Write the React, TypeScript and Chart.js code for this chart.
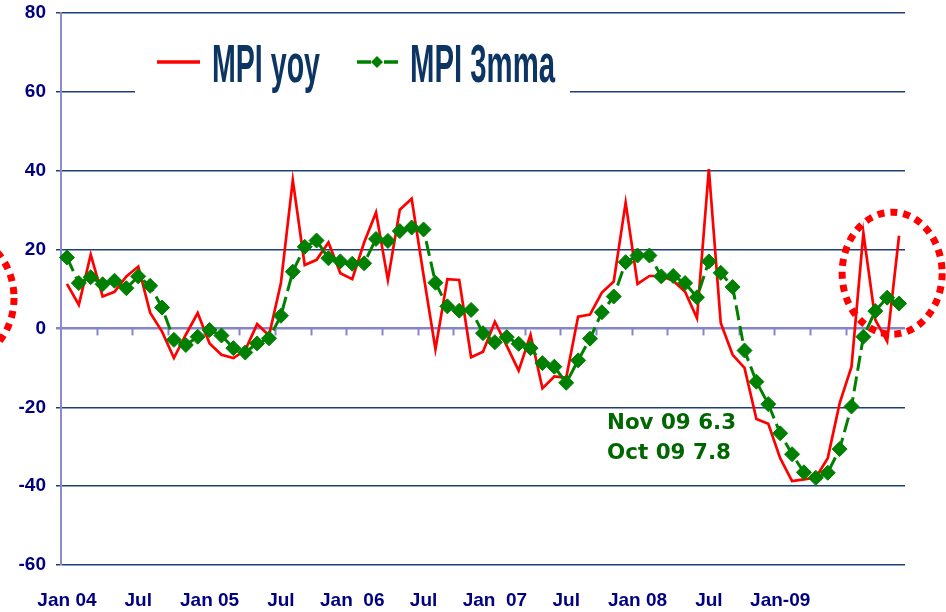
import { useEffect, useRef } from 'react';
import { Chart, registerables } from 'chart.js';

Chart.register(...registerables);

const MONTHS = ['Jan', 'Feb', 'Mar', 'Apr', 'May', 'Jun', 'Jul', 'Aug', 'Sep', 'Oct', 'Nov', 'Dec'];
const YEARS = ['04', '05', '06', '07', '08', '09'];
const categories: string[] = YEARS.flatMap((yr) => MONTHS.map((m) => `${m} ${yr}`)).slice(0, 71);

const tickLabels = ['Jan 04', 'Jul', 'Jan 05', 'Jul', 'Jan  06', 'Jul', 'Jan  07', 'Jul', 'Jan 08', 'Jul', 'Jan-09'];

const mpiYoy = [
  11.3, 6.0, 18.7, 8.1, 9.3, 13.2, 15.7, 4.0, -0.8, -7.5, -1.6, 3.9,
  -3.8, -6.7, -7.5, -5.5, 1.1, -1.8, 11.5, 37.6, 16.1, 17.4, 21.8, 14.0,
  12.5, 21.8, 29.4, 12.3, 30.1, 32.9, 13.5, -5.3, 12.5, 12.3, -7.3, -5.9,
  1.7, -4.4, -10.7, -1.6, -15.2, -12.2, -12.5, 3.0, 3.5, 9.1, 11.9, 31.9,
  11.3, 13.3, 13.3, 12.1, 9.3, 2.6, 40.4, 1.4, -6.7, -10.0, -23.0, -24.2,
  -32.9, -38.7, -38.3, -37.8, -32.9, -19.0, -9.7, 24.2, 2.2, -3.3, 23.5,
];

const mpi3mma = [
  18.0, 11.5, 13.0, 11.2, 12.1, 10.2, 13.2, 10.8, 5.3, -2.9, -4.2, -2.1,
  -0.4, -1.8, -5.0, -6.1, -3.8, -2.5, 3.2, 14.4, 20.7, 22.3, 17.8, 17.0,
  16.4, 16.5, 22.7, 22.2, 24.7, 25.6, 25.1, 11.6, 5.6, 4.5, 4.7, -1.2,
  -3.5, -2.2, -3.9, -5.0, -8.8, -9.7, -13.8, -8.1, -2.6, 4.1, 8.1, 16.8,
  18.5, 18.5, 13.2, 13.3, 11.5, 7.9, 17.0, 14.1, 10.5, -5.6, -13.5, -19.2,
  -26.6, -31.9, -36.5, -37.9, -36.6, -30.6, -19.8, -2.1, 4.4, 7.8, 6.3,
];

const seriesNames = ['MPI yoy', 'MPI 3mma'];
const noteLines = ['Nov 09 6.3', 'Oct 09 7.8'];

const NAVY = '#000080';
const RED = '#ff0000';
const GREEN = '#008000';

const decorations = {
  id: 'decorations',
  beforeDatasetsDraw(chart: any) {
    const { ctx, scales } = chart;
    const x = scales.x;
    const y = scales.y;
    const y0 = y.getPixelForValue(0);
    ctx.save();
    ctx.strokeStyle = '#8585cc';
    ctx.lineWidth = 2;
    for (let i = 3; i < categories.length; i += 3) {
      const px = Math.round((x.getPixelForValue(i - 1) + x.getPixelForValue(i)) / 2) + 0.5;
      ctx.beginPath();
      ctx.moveTo(px, y0);
      ctx.lineTo(px, y0 + 7);
      ctx.stroke();
    }
    ctx.restore();
  },
  afterDraw(chart: any) {
    const { ctx, scales } = chart;
    const x = scales.x;
    const y = scales.y;
    ctx.save();

    // legend box
    ctx.fillStyle = '#ffffff';
    ctx.fillRect(135, 30, 435, 64);
    ctx.setLineDash([]);
    ctx.lineCap = 'butt';
    ctx.strokeStyle = RED;
    ctx.lineWidth = 3.5;
    ctx.beginPath();
    ctx.moveTo(157, 62);
    ctx.lineTo(200, 62);
    ctx.stroke();
    ctx.strokeStyle = GREEN;
    ctx.beginPath();
    ctx.moveTo(357, 62);
    ctx.lineTo(371, 62);
    ctx.moveTo(384, 62);
    ctx.lineTo(398, 62);
    ctx.stroke();
    ctx.fillStyle = GREEN;
    ctx.beginPath();
    ctx.moveTo(377, 56);
    ctx.lineTo(383, 62);
    ctx.lineTo(377, 68);
    ctx.lineTo(371, 62);
    ctx.closePath();
    ctx.fill();

    const drawScaled = (text: string, font: string, color: string, left: number, base: number, width: number) => {
      ctx.font = font;
      const w = ctx.measureText(text).width;
      ctx.save();
      ctx.translate(left, base);
      ctx.scale(width / w, 1);
      ctx.fillStyle = color;
      ctx.textBaseline = 'alphabetic';
      ctx.textAlign = 'left';
      ctx.fillText(text, 0, 0);
      ctx.restore();
    };
    const legendFont = 'bold 54px "Liberation Sans Narrow", "Liberation Sans", Arial, sans-serif';
    drawScaled(seriesNames[0], legendFont, '#0d3563', 212, 82, 108);
    drawScaled(seriesNames[1], legendFont, '#0d3563', 410, 82, 145);

    // annotation
    const noteFont = 'bold 21px "DejaVu Sans", sans-serif';
    drawScaled(noteLines[0], noteFont, '#006600', 607, 429, 129);
    drawScaled(noteLines[1], noteFont, '#006600', 607, 459, 124);

    // dotted ellipses
    ctx.strokeStyle = RED;
    ctx.lineWidth = 7;
    ctx.setLineDash([7, 6]);
    const cx = (x.getPixelForValue(69) + x.getPixelForValue(70)) / 2 - 1;
    const cy = y.getPixelForValue(14);
    ctx.beginPath();
    ctx.ellipse(cx, cy, 50, 61, 0, 0, Math.PI * 2);
    ctx.stroke();
    ctx.beginPath();
    ctx.ellipse(-36, y.getPixelForValue(7.7), 50, 61, 0, 0, Math.PI * 2);
    ctx.stroke();
    ctx.restore();
  },
};

export default function App() {
  const canvasRef = useRef<HTMLCanvasElement | null>(null);

  useEffect(() => {
    const canvas = canvasRef.current;
    if (!canvas) return;
    const chart = new Chart(canvas, {
      type: 'line',
      data: {
        labels: categories,
        datasets: [
          {
            label: seriesNames[0],
            data: mpiYoy,
            borderColor: RED,
            backgroundColor: RED,
            borderWidth: 2.7,
            pointRadius: 0,
            tension: 0,
            order: 2,
          },
          {
            label: seriesNames[1],
            data: mpi3mma,
            borderColor: GREEN,
            backgroundColor: GREEN,
            borderWidth: 3,
            borderDash: [15, 6],
            borderCapStyle: 'butt',
            pointStyle: 'rectRot',
            pointRadius: 7.5,
            pointBackgroundColor: GREEN,
            pointBorderColor: GREEN,
            pointBorderWidth: 1,
            tension: 0,
            order: 1,
          },
        ],
      },
      options: {
        animation: false,
        responsive: false,
        devicePixelRatio: 1,
        layout: { padding: { top: 13, right: 41, left: 0, bottom: 0 } },
        plugins: {
          legend: { display: false },
          tooltip: { enabled: false },
        },
        scales: {
          x: {
            type: 'category',
            offset: true,
            grid: { display: false, drawTicks: false },
            border: { display: false },
            ticks: {
              autoSkip: false,
              maxRotation: 0,
              minRotation: 0,
              padding: 24,
              color: NAVY,
              font: { family: '"Liberation Sans", Arial, sans-serif', weight: 'bold', size: 19 },
              callback: (_v: any, i: number) => (i % 6 === 0 ? tickLabels[i / 6] ?? '' : ''),
            },
            afterFit: (s: any) => {
              s.height = 47;
              s.paddingLeft = 0;
              s.paddingRight = 0;
            },
          },
          y: {
            min: -60,
            max: 80,
            ticks: {
              stepSize: 20,
              padding: 10,
              color: NAVY,
              font: { family: '"Liberation Sans", Arial, sans-serif', weight: 'bold', size: 19 },
            },
            grid: {
              color: (c: any) => (c.tick && c.tick.value === 0 ? '#8585cc' : '#1f3f78'),
              lineWidth: (c: any) => (c.tick && c.tick.value === 0 ? 2.5 : 1.5),
              tickLength: 5,
              drawTicks: true,
            },
            border: { display: true, color: '#8a8ad0', width: 2 },
            afterFit: (s: any) => {
              s.width = 61;
              s.paddingTop = 0;
              s.paddingBottom = 0;
            },
          },
        },
      },
      plugins: [decorations],
    } as any);
    return () => chart.destroy();
  }, []);

  return (
    <div style={{ position: 'fixed', left: 0, top: 0, width: 946, height: 612, background: '#fff' }}>
      <canvas ref={canvasRef} width={946} height={612} style={{ display: 'block' }} />
    </div>
  );
}
